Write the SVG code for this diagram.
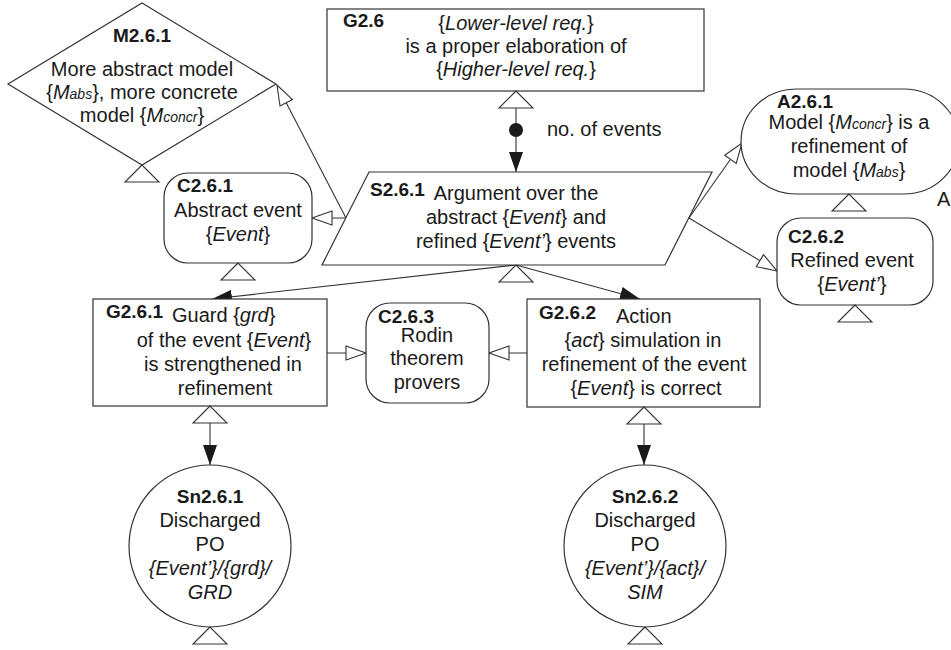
<svg xmlns="http://www.w3.org/2000/svg" width="951" height="650" viewBox="0 0 951 650">
  <style>
    .shape { fill: #fff; stroke: #333; stroke-width: 1.2; }
    .tri { fill: #fff; stroke: #333; stroke-width: 1.1; }
    .link { fill: none; stroke: #333; stroke-width: 1.1; }
    text { font-family: "Liberation Sans", Arial, sans-serif; font-size: 20px; fill: #1a1a1a; }
    .id { font-weight: bold; font-size: 19px; }
    .c { text-anchor: middle; }
    .i { font-style: italic; }
    .sub { font-style: italic; font-size: 14px; }
  </style>
  <defs>
    <marker id="solid" viewBox="0 0 20 14" refX="20" refY="7" markerWidth="20" markerHeight="14" orient="auto" markerUnits="userSpaceOnUse">
      <path d="M0,0 L20,7 L0,14 z" fill="#1a1a1a"/>
    </marker>
    <marker id="hollow" viewBox="-1 -1 22 16" refX="20" refY="7" markerWidth="22" markerHeight="16" orient="auto" markerUnits="userSpaceOnUse">
      <path d="M0,0 L20,7 L0,14 z" fill="#fff" stroke="#333" stroke-width="1.1"/>
    </marker>
    <!-- hollow triangle hanging under a node: apex at (0,0) -->
    <path id="tri" class="tri" d="M0,0 L-17,17 L17,17 z"/>
  </defs>

  <rect width="951" height="650" fill="#fff"/>

  <!-- connectors -->
  <g id="connectors">
    <line class="link" x1="516" y1="108" x2="516" y2="172" marker-end="url(#solid)"/>
    <circle cx="516" cy="130" r="7" fill="#1a1a1a"/>
    <line class="link" x1="516" y1="265" x2="212" y2="299" marker-end="url(#solid)"/>
    <line class="link" x1="516" y1="265" x2="640" y2="299" marker-end="url(#solid)"/>
    <line class="link" x1="346" y1="218" x2="312" y2="218" marker-end="url(#hollow)"/>
    <line class="link" x1="346" y1="218" x2="277" y2="85" marker-end="url(#hollow)"/>
    <line class="link" x1="689" y1="218" x2="742" y2="143" marker-end="url(#hollow)"/>
    <line class="link" x1="689" y1="218" x2="777" y2="271" marker-end="url(#hollow)"/>
    <line class="link" x1="327" y1="353" x2="366" y2="353" marker-end="url(#hollow)"/>
    <line class="link" x1="527" y1="353" x2="489" y2="353" marker-end="url(#hollow)"/>
    <line class="link" x1="210" y1="423" x2="210" y2="465" marker-end="url(#solid)"/>
    <line class="link" x1="644" y1="424" x2="644" y2="465" marker-end="url(#solid)"/>
    <text x="547" y="136">no. of events</text>
  </g>

  <!-- model M2.6.1 -->
  <g id="M2.6.1">
    <path class="shape" d="M142,3 L276,84 L142,165 L8,84 z"/>
    <use href="#tri" x="142" y="165"/>
    <text class="id c" x="142" y="42">M2.6.1</text>
    <text class="c" x="142" y="76">More abstract model</text>
    <text class="c" x="142" y="99">{<tspan class="i">M</tspan><tspan class="sub">abs</tspan>}, more concrete</text>
    <text class="c" x="142" y="122">model {<tspan class="i">M</tspan><tspan class="sub">concr</tspan>}</text>
  </g>

  <!-- goal G2.6 -->
  <g id="G2.6">
    <rect class="shape" x="327" y="9" width="377" height="82"/>
    <use href="#tri" x="516" y="91"/>
    <text class="id" x="343" y="27">G2.6</text>
    <text class="c" x="516" y="30">{<tspan class="i">Lower-level req.</tspan>}</text>
    <text class="c" x="516" y="53">is a proper elaboration of</text>
    <text class="c" x="516" y="76">{<tspan class="i">Higher-level req.</tspan>}</text>
  </g>

  <!-- strategy S2.6.1 -->
  <g id="S2.6.1">
    <path class="shape" d="M369,172 L712,172 L665,265 L322,265 z"/>
    <use href="#tri" x="516" y="265"/>
    <text class="id" x="370" y="196">S2.6.1</text>
    <text class="c" x="516" y="200">Argument over the</text>
    <text class="c" x="516" y="224">abstract {<tspan class="i">Event</tspan>} and</text>
    <text class="c" x="516" y="248">refined {<tspan class="i">Event’</tspan>} events</text>
  </g>

  <!-- context C2.6.1 -->
  <g id="C2.6.1">
    <rect class="shape" x="164" y="173" width="148" height="90" rx="24" ry="24"/>
    <use href="#tri" x="238" y="263"/>
    <text class="id" x="177" y="192">C2.6.1</text>
    <text class="c" x="238" y="217">Abstract event</text>
    <text class="c" x="238" y="241">{<tspan class="i">Event</tspan>}</text>
  </g>

  <!-- assumption A2.6.1 -->
  <g id="A2.6.1">
    <rect class="shape" x="741" y="89" width="218" height="105" rx="55" ry="52.5"/>
    <use href="#tri" x="849" y="194"/>
    <text class="id" x="777" y="108">A2.6.1</text>
    <text class="c" x="849" y="129">Model {<tspan class="i">M</tspan><tspan class="sub">concr</tspan>} is a</text>
    <text class="c" x="849" y="153">refinement of</text>
    <text class="c" x="849" y="177">model {<tspan class="i">M</tspan><tspan class="sub">abs</tspan>}</text>
    <text x="937" y="206">A</text>
  </g>

  <!-- context C2.6.2 -->
  <g id="C2.6.2">
    <rect class="shape" x="777" y="218" width="156" height="87" rx="24" ry="24"/>
    <use href="#tri" x="855" y="305"/>
    <text class="id" x="788" y="243">C2.6.2</text>
    <text class="c" x="852" y="267">Refined event</text>
    <text class="c" x="852" y="291">{<tspan class="i">Event’</tspan>}</text>
  </g>

  <!-- goal G2.6.1 -->
  <g id="G2.6.1">
    <rect class="shape" x="93" y="299" width="234" height="107"/>
    <use href="#tri" x="210" y="406"/>
    <text class="id" x="106" y="318">G2.6.1</text>
    <text x="172" y="322">Guard {<tspan class="i">grd</tspan>}</text>
    <text class="c" x="224" y="347">of the event {<tspan class="i">Event</tspan>}</text>
    <text class="c" x="223" y="371">is strengthened in</text>
    <text class="c" x="225" y="395">refinement</text>
  </g>

  <!-- context C2.6.3 -->
  <g id="C2.6.3">
    <rect class="shape" x="366" y="303" width="123" height="100" rx="24" ry="24"/>
    <text class="id" x="378" y="323">C2.6.3</text>
    <text class="c" x="427" y="342">Rodin</text>
    <text class="c" x="427" y="365">theorem</text>
    <text class="c" x="427" y="389">provers</text>
  </g>

  <!-- goal G2.6.2 -->
  <g id="G2.6.2">
    <rect class="shape" x="527" y="299" width="233" height="108"/>
    <use href="#tri" x="644" y="407"/>
    <text class="id" x="539" y="319">G2.6.2</text>
    <text x="616" y="323">Action</text>
    <text class="c" x="643" y="347">{<tspan class="i">act</tspan>} simulation in</text>
    <text class="c" x="644" y="371">refinement of the event</text>
    <text class="c" x="646" y="395">{<tspan class="i">Event</tspan>} is correct</text>
  </g>

  <!-- solution Sn2.6.1 -->
  <g id="Sn2.6.1">
    <circle class="shape" cx="210" cy="546" r="81"/>
    <use href="#tri" x="210" y="627"/>
    <text class="id c" x="210" y="503">Sn2.6.1</text>
    <text class="c" x="210" y="527">Discharged</text>
    <text class="c" x="210" y="551">PO</text>
    <text class="c i" x="210" y="575">{Event’}/{grd}/</text>
    <text class="c i" x="210" y="599">GRD</text>
  </g>

  <!-- solution Sn2.6.2 -->
  <g id="Sn2.6.2">
    <circle class="shape" cx="645" cy="546" r="81"/>
    <use href="#tri" x="645" y="627"/>
    <text class="id c" x="645" y="503">Sn2.6.2</text>
    <text class="c" x="645" y="527">Discharged</text>
    <text class="c" x="645" y="551">PO</text>
    <text class="c i" x="645" y="575">{Event’}/{act}/</text>
    <text class="c i" x="645" y="599">SIM</text>
  </g>
</svg>
